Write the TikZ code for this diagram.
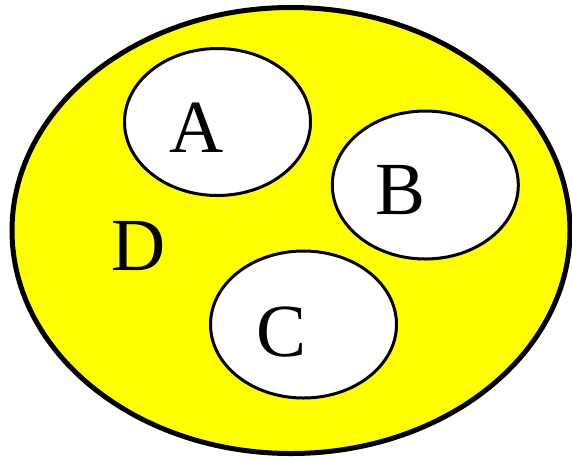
\documentclass[tikz,border=0pt]{standalone}
\usepackage{fontspec}
\setmainfont{Liberation Serif}
\definecolor{setyellow}{RGB}{255,255,0}
\begin{document}
\begin{tikzpicture}[x=1pt,y=-1pt,
  setborder/.style={draw=black,line width=5pt,fill=setyellow},
  subset/.style={draw=black,line width=3pt,fill=white},
  setlabel/.style={anchor=base,inner sep=0pt,font=\fontsize{75}{75}\selectfont}]
  \useasboundingbox (0,0) rectangle (572,459);
  % universal set D
  \draw[setborder] (291,230.5) ellipse [x radius=279, y radius=223];
  % the three subsets
  \draw[subset] (217.5,122) ellipse [x radius=93, y radius=73.5];
  \draw[subset] (425.3,185) ellipse [x radius=93, y radius=74];
  \draw[subset] (303.5,324.5) ellipse [x radius=93, y radius=73.5];
  % labels
  \node[setlabel] (a) at (197,152) {A};
  \node[setlabel] (b) at (401,214) {B};
  \node[setlabel] (c) at (282,356) {C};
  \node[setlabel] (d) at (138.5,270) {D};
\end{tikzpicture}
\end{document}
